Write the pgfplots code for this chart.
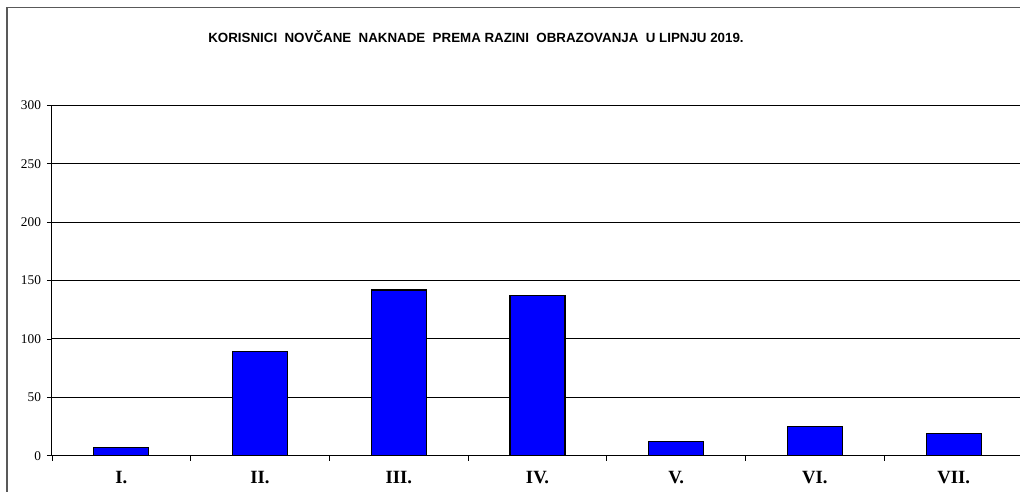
\documentclass[border=0pt]{standalone}
\usepackage{fontspec}
\setmainfont{Liberation Serif}
\newfontfamily\arialfont{Liberation Sans}
\usepackage{pgfplots}
\pgfplotsset{compat=1.18}

% 1px of the reference = 0.75pt
\newcommand{\px}[1]{#1*0.75pt}

\begin{document}
\begin{tikzpicture}
\useasboundingbox (0,0) rectangle ({\px{1020}},{\px{492}});
\clip (0,0) rectangle ({\px{1020}},{\px{492}});

% outer chart frame (right and bottom sides fall outside the picture)
\draw[line width=1.2pt, black!65] ({\px{7}},{\px{-20}}) rectangle ({\px{1060}},{\px{484.5}});

\node[anchor=base, font=\arialfont\bfseries\fontsize{10}{12}\selectfont]
  at ({\px{476}},{\px{449.7}})
  {KORISNICI~ NOVČANE~ NAKNADE~ PREMA RAZINI~ OBRAZOVANJA~ U LIPNJU 2019.};

\begin{axis}[
    at={({\px{52}},{\px{36.3}})},
    anchor=south west,
    scale only axis,
    width={\px{971}},
    height={\px{350.2}},
    xmin=-0.5, xmax=6.5,
    ymin=0, ymax=300,
    axis lines*=left,
    axis line style={black, line width=0.75pt},
    ytick={0,50,...,300},
    ymajorgrids,
    major grid style={black, line width=0.75pt},
    xtick={-0.5,0.5,...,6.5},
    xticklabels={},
    extra x ticks={0,...,6},
    extra x tick labels={I., II., III., IV., V., VI., VII.},
    extra x tick style={major tick length=0pt, tick style={draw=none},
        xticklabel style={font=\bfseries\fontsize{14}{16}\selectfont, anchor=base, yshift=-20.7pt}},
    tick align=outside,
    major tick length=3.75pt,
    tick style={black, line width=0.6pt},
    yticklabel style={font=\fontsize{10}{12}\selectfont, xshift=-1pt},
    /pgf/number format/assume math mode=true,
    ybar,
    bar width={\px{55}},
    clip=false,
]
\addplot[fill={rgb,255:red,0;green,0;blue,255}, draw=black, line width=0.9pt]
coordinates {(0,7) (1,89) (2,142) (3,137) (4,12) (5,25) (6,19)};
\end{axis}
\end{tikzpicture}
\end{document}
